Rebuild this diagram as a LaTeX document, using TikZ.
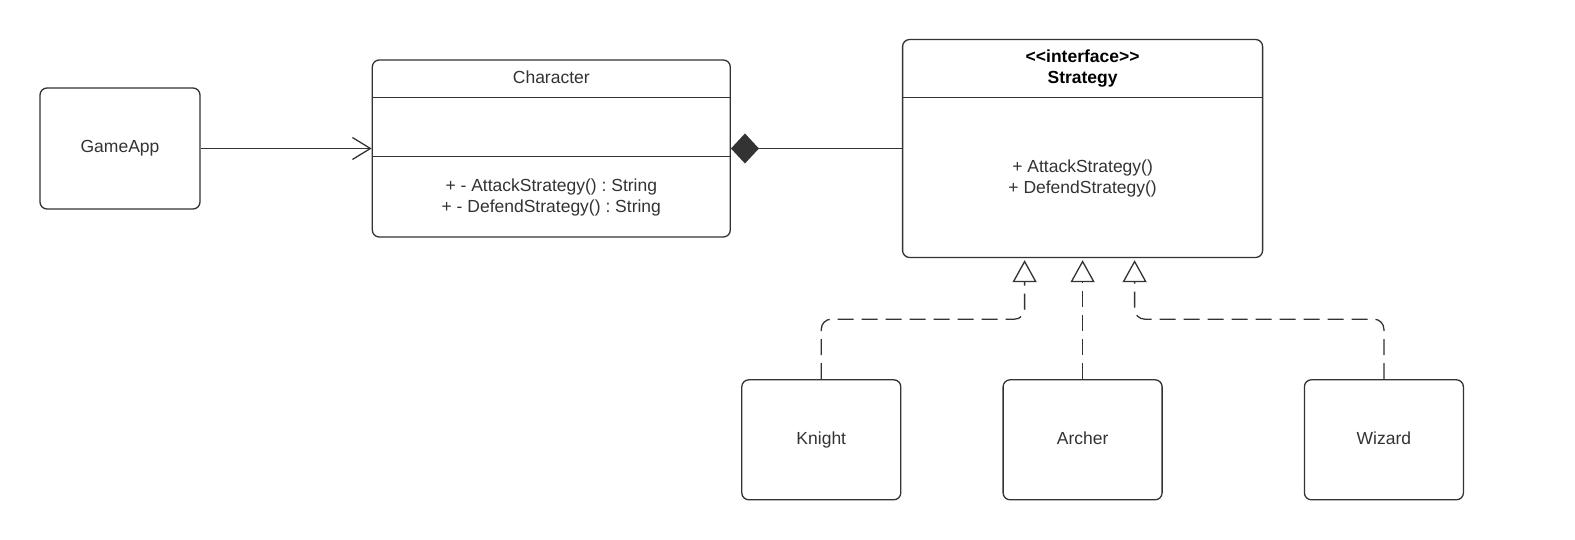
\documentclass[tikz,border=0pt]{standalone}
\usepackage{fontspec}
\setmainfont{Liberation Sans}
\usetikzlibrary{arrows.meta, positioning}
\definecolor{umlgray}{HTML}{333333}
\frenchspacing

\begin{document}
\begin{tikzpicture}[
        x=1pt, y=1pt,
        font=\fontsize{17.5}{21}\selectfont,
        box/.style={rectangle, draw=umlgray, line width=1.3pt, fill=white, minimum width=159pt, minimum height=120pt, rounded corners=7pt, text=umlgray, align=center, text height=12.5pt, text depth=3.5pt},
        txt/.style={text=umlgray, align=center, inner sep=0pt},
        divider/.style={draw=umlgray, line width=1.3pt},
        assoc/.style={-{Straight Barb[length=18pt, width=22pt]}, draw=umlgray, line width=1.3pt},
        compose/.style={{Diamond[length=28pt, width=30pt, fill=umlgray]}-, draw=umlgray, line width=1.3pt},
        realize/.style={-{Triangle[open, length=22pt, width=24pt, fill=white]}, draw=umlgray, line width=1.3pt, dash pattern=on 16pt off 8pt, rounded corners=10pt}
    ]
        \useasboundingbox (0,0) rectangle (1575,-540);

        \node[box, minimum width=160pt, minimum height=121pt] (gameapp) at (120,-148.5) {GameApp};
        \node[box, minimum width=358pt, minimum height=177pt, right=171pt of gameapp] (character) {};
        \node[box, minimum width=360pt, minimum height=218pt, right=171pt of character] (strategy) {};
        \node[box, below=121pt of strategy] (archer) {Archer};
        \node[box, left=101pt of archer] (knight) {Knight};
        \node[box, right=141pt of archer] (wizard) {Wizard};

        % class compartments
        \node[txt] (charname) at ([yshift=-18pt]character.north) {Character};
        \draw[divider] ([yshift=-38.5pt]character.north west) -- ([yshift=-38.5pt]character.north east);
        \draw[divider] ([yshift=-97.5pt]character.north west) -- ([yshift=-97.5pt]character.north east);
        \node[txt] (charops) at ([yshift=-138pt]character.north) {+ - AttackStrategy() : String\\+ - DefendStrategy() : String};

        \node[txt, font=\fontsize{17.5}{21}\selectfont\bfseries, text=black] (stratname) at ([yshift=-29.5pt]strategy.north) {<{}<interface>{}>\\Strategy};
        \draw[divider] ([yshift=-58.5pt]strategy.north west) -- ([yshift=-58.5pt]strategy.north east);
        \node[txt] (stratops) at ([yshift=-139.5pt]strategy.north) {+ AttackStrategy()\\+ DefendStrategy()};

        % triangle tips
        \coordinate (tipK) at ([xshift=-58pt, yshift=-2pt]strategy.south);
        \coordinate (tipA) at ([yshift=-2pt]strategy.south);
        \coordinate (tipW) at ([xshift=52pt, yshift=-2pt]strategy.south);

        \draw[assoc] (gameapp) -- (character);
        \draw[compose] (character.east) -- (strategy.west);
        \draw[realize] (knight.north) |- ([yshift=-59pt]tipK) -- (tipK);
        \draw[realize] (archer.north) -- (tipA);
        \draw[realize] (wizard.north) |- ([yshift=-59pt]tipW) -- (tipW);
    \end{tikzpicture}
\end{document}
